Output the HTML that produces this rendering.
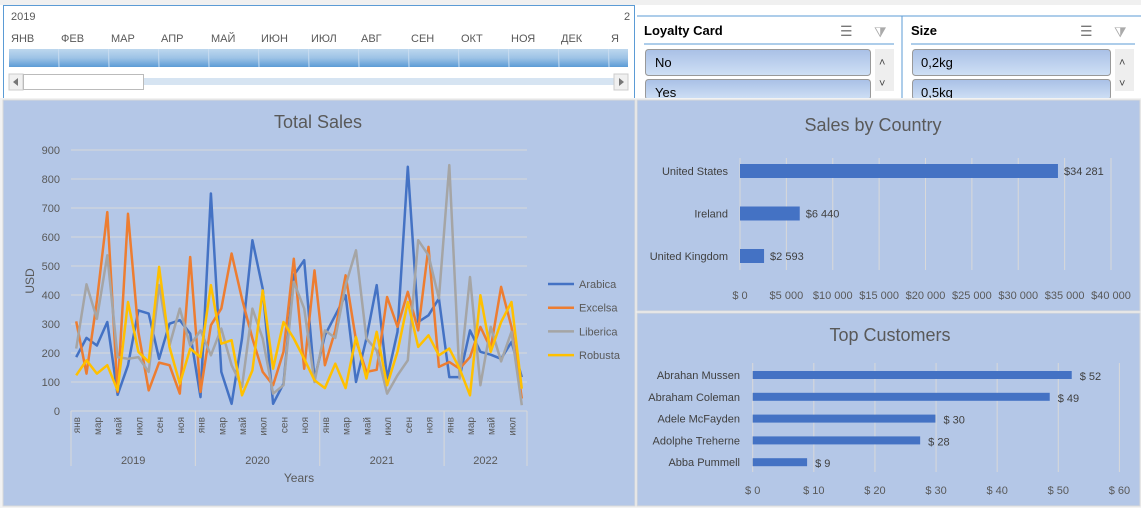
<!DOCTYPE html>
<html><head><meta charset="utf-8"><style>
body{margin:0;width:1141px;height:508px;overflow:hidden;background:#fff;font-family:"Liberation Sans","Noto Sans CJK SC",sans-serif;position:relative}
.abs{position:absolute}
</style></head><body>
<svg width="1141" height="508" style="position:absolute;left:0;top:0" font-family="Liberation Sans, sans-serif">
<!-- excel background -->
<rect x="0" y="0" width="1141" height="508" fill="#ffffff"/>
<rect x="0" y="0" width="1141" height="5" fill="#f0f0f0"/>
<!-- timeline slicer -->
<g>
<rect x="3.5" y="5.5" width="631" height="93" fill="#fff" stroke="#5b9bd5"/>
<text x="11" y="20" font-size="11" fill="#595959">2019</text>
<text x="624" y="20" font-size="11" fill="#595959">2</text>
<g id="tlmonths" font-size="11" fill="#595959"></g>
<defs><linearGradient id="tg" x1="0" y1="0" x2="0" y2="1"><stop offset="0" stop-color="#bdd7ee"/><stop offset="0.5" stop-color="#9dc3e6"/><stop offset="1" stop-color="#5b9bd5"/></linearGradient>
<linearGradient id="sg" x1="0" y1="0" x2="0" y2="1"><stop offset="0" stop-color="#a9c0e6"/><stop offset="1" stop-color="#cfe0f5"/></linearGradient></defs>
<rect x="9" y="49" width="619" height="18" fill="url(#tg)"/>
<g id="tlsep" stroke="#c8dcf0" stroke-width="1"></g>
<rect x="9" y="78" width="619" height="7" fill="#d6e4f2"/>
<rect x="9" y="74" width="14" height="16" fill="#f0f0f0" stroke="#ccc"/>
<path d="M13 82 L18 78 L18 86Z" fill="#777"/>
<rect x="23.5" y="74.5" width="120" height="15" fill="#fff" stroke="#bbb"/>
<rect x="614" y="74" width="14" height="16" fill="#f0f0f0" stroke="#ccc"/>
<path d="M624 82 L619 78 L619 86Z" fill="#777"/>
</g>
<!-- loyalty slicer -->
<g>
<rect x="637" y="16" width="265" height="83" fill="#fff"/>
<line x1="902" y1="16" x2="902" y2="98" stroke="#5b9bd5"/>
<line x1="637" y1="16" x2="1141" y2="16" stroke="#5b9bd5"/>
<text x="644" y="35" font-size="13" font-weight="bold" fill="#000">Loyalty Card</text>
<text x="840" y="36" font-size="14" fill="#777">☰</text>
<text x="874" y="37" font-size="14" fill="#aaa">⧩</text>
<line x1="644" y1="44" x2="894" y2="44" stroke="#5b9bd5"/>
<rect x="645.5" y="49.5" width="225" height="26" rx="3" fill="url(#sg)" stroke="#999"/>
<text x="655" y="67" font-size="13" fill="#000">No</text>
<rect x="645.5" y="79.5" width="225" height="20" rx="3" fill="url(#sg)" stroke="#999"/>
<text x="655" y="97" font-size="13" fill="#000">Yes</text>
<rect x="875" y="49" width="19" height="42" fill="#eee"/>
<text x="879" y="66" font-size="11" fill="#444">˄</text><text x="879" y="87" font-size="11" fill="#444">˅</text>
</g>
<g>
<text x="911" y="35" font-size="13" font-weight="bold" fill="#000">Size</text>
<text x="1080" y="36" font-size="14" fill="#777">☰</text>
<text x="1114" y="37" font-size="14" fill="#aaa">⧩</text>
<line x1="911" y1="44" x2="1135" y2="44" stroke="#5b9bd5"/>
<rect x="912.5" y="49.5" width="198" height="26" rx="3" fill="url(#sg)" stroke="#999"/>
<text x="921" y="67" font-size="13" fill="#000">0,2kg</text>
<rect x="912.5" y="79.5" width="198" height="20" rx="3" fill="url(#sg)" stroke="#999"/>
<text x="921" y="97" font-size="13" fill="#000">0,5kg</text>
<rect x="1115" y="49" width="19" height="42" fill="#eee"/>
<text x="1119" y="66" font-size="11" fill="#444">˄</text><text x="1119" y="87" font-size="11" fill="#444">˅</text>
</g>
<rect x="0" y="98" width="1141" height="410" fill="#f2f2f2"/>
<!-- panels -->
<rect x="3" y="100" width="632" height="406" fill="#b4c7e7" stroke="#d9d9d9"/>
<rect x="637" y="100" width="503" height="211" fill="#b4c7e7" stroke="#d9d9d9"/>
<rect x="637" y="313" width="503" height="193" fill="#b4c7e7" stroke="#d9d9d9"/>
<text x="318" y="128" font-size="18" fill="#595959" text-anchor="middle">Total Sales</text>
<text x="873" y="131" font-size="18" fill="#595959" text-anchor="middle">Sales by Country</text>
<text x="890" y="341" font-size="18" fill="#595959" text-anchor="middle">Top Customers</text>
<g id="line"></g>
<g id="country"></g>
<g id="cust"></g>
</svg>
<script>
const NS="http://www.w3.org/2000/svg";
function mk(p,t,a,txt){const e=document.createElementNS(NS,t);for(const k in a)e.setAttribute(k,a[k]);if(txt!=null)e.textContent=txt;p.appendChild(e);return e;}
const tlMonths=["ЯНВ","ФЕВ","МАР","АПР","МАЙ","ИЮН","ИЮЛ","АВГ","СЕН","ОКТ","НОЯ","ДЕК","Я"];
const years=["2019","2020","2021","2022"];
const monthsPerYear=[12,12,12,8];
const monthLabels=["янв","фев","мар","апр","май","июн","июл","авг","сен","окт","ноя","дек"];
const seriesNames=["Arabica","Excelsa","Liberica","Robusta"];
const seriesColors=["#4472c4","#ed7d31","#a5a5a5","#ffc000"];
const arabica=[186,252,226,307,56,158,347,336,180,301,313,267,48,750,135,25,250,589,422,25,94,468,520,110,261,330,399,100,250,434,112,273,842,307,330,388,117,117,278,204,194,180,238,117];
const excelsa=[309,129,380,686,66,680,272,71,167,158,60,531,66,296,353,543,387,250,135,89,204,525,146,485,158,278,468,244,135,142,393,290,411,278,566,152,169,146,186,290,215,428,290,43];
const liberica=[215,437,318,537,186,180,186,135,434,226,353,226,278,192,284,158,83,353,250,60,89,445,353,100,278,252,434,554,250,209,60,123,175,589,537,388,848,112,462,89,290,171,273,20];
const robusta=[123,175,129,158,71,376,204,169,497,221,94,215,186,434,232,244,54,140,416,146,307,250,180,106,79,163,79,255,112,273,89,204,376,221,261,192,215,146,54,399,204,307,376,77];
const yTicks=[0,100,200,300,400,500,600,700,800,900];
const countries=["United States","Ireland","United Kingdom"];
const countrySales=[34281,6440,2593];
const countryLabels=["$34 281","$6 440","$2 593"];
const countryTicks=[0,5000,10000,15000,20000,25000,30000,35000,40000];
const customers=["Abrahan Mussen","Abraham Coleman","Adele McFayden","Adolphe Treherne","Abba Pummell"];
const custSales=[52.2,48.6,29.9,27.4,8.9];
const custLabels=["$ 52","$ 49","$ 30","$ 28","$ 9"];
const custTicks=[0,10,20,30,40,50,60];

// timeline
const tm=document.getElementById('tlmonths'),ts=document.getElementById('tlsep');
tlMonths.forEach((m,i)=>{const t=mk(tm,'text',{x:11+50*i,y:42},m);


if(i>0&&i<13)mk(ts,'line',{x1:9+50*i-0.5*1,y1:49,x2:9+50*i,y2:67});});

// line chart
const L=document.getElementById('line');
const px0=71,pxW=456,py0=411,py1=150,yMax=900;
const nTot=monthsPerYear.reduce((a,b)=>a+b,0);
const step=pxW/nTot;
const X=i=>px0+step*(i+0.5);
const Y=v=>py0-(v/yMax)*(py0-py1);
yTicks.forEach(v=>{
 if(v>0){const g=mk(L,'line',{x1:px0,x2:px0+pxW,y1:Y(v),y2:Y(v),stroke:'#d9d9d9','stroke-width':1});
 
 }
 const t=mk(L,'text',{x:60,y:Y(v)+4,'font-size':11,fill:'#595959','text-anchor':'end'},v);
 
 
});
mk(L,'line',{x1:px0,x2:px0+pxW,y1:py0,y2:py0,stroke:'#d9d9d9'});
let idx=0;
years.forEach((yr,yi)=>{
 const n=monthsPerYear[yi];const xs=px0+step*idx,xe=px0+step*(idx+n);
 mk(L,'line',{x1:xs,x2:xs,y1:py0,y2:466,stroke:'#d9d9d9'});
 if(yi==years.length-1)mk(L,'line',{x1:xe,x2:xe,y1:py0,y2:466,stroke:'#d9d9d9'});
 for(let m=0;m<n;m+=2){const xx=X(idx+m);
  const t=mk(L,'text',{x:xx+4,y:417,'font-size':10,fill:'#595959','text-anchor':'end',transform:`rotate(-90 ${xx+4} 417)`},monthLabels[m]);
  
  }
 const t=mk(L,'text',{x:(xs+xe)/2,y:464,'font-size':11,fill:'#595959','text-anchor':'middle'},yr);
 
 
 idx+=n;
});
const xt=mk(L,'text',{x:299,y:482,'font-size':12,fill:'#595959','text-anchor':'middle'},'Years');


const yt=mk(L,'text',{x:34,y:281,'font-size':12,fill:'#595959','text-anchor':'middle',transform:'rotate(-90 34 281)'},'USD');


[arabica,excelsa,liberica,robusta].forEach((s,si)=>{
 const p=mk(L,'polyline',{points:s.map((v,i)=>X(i).toFixed(1)+','+Y(v).toFixed(1)).join(' '),fill:'none',stroke:seriesColors[si],'stroke-width':2.5,'stroke-linejoin':'round'});
 
 
 const ly=284+si*23.7;
 const g=mk(L,'g',{});
 
 
 mk(g,'line',{x1:548,x2:574,y1:ly,y2:ly,stroke:seriesColors[si],'stroke-width':2.5});
 mk(g,'text',{x:579,y:ly+4,'font-size':11,fill:'#595959'},seriesNames[si]);
});

// country chart
const C=document.getElementById('country');
const cx0=740,cW=371,cMax=40000;
const CX=v=>cx0+v/cMax*cW;
countryTicks.forEach(v=>{mk(C,'line',{x1:CX(v),x2:CX(v),y1:158,y2:270,stroke:'#d9d9d9'});
 const t=mk(C,'text',{x:CX(v),y:299,'font-size':11,fill:'#595959','text-anchor':'middle'},'$'+(v==0?' 0':(v/1000)+' 000'));
 
 });
countries.forEach((c,i)=>{const yc=171+i*42.5;
 const t=mk(C,'text',{x:728,y:yc+4,'font-size':11,fill:'#404040','text-anchor':'end'},c);
 
 
 const b=mk(C,'rect',{x:cx0,y:yc-7,width:CX(countrySales[i])-cx0,height:14,fill:'#4472c4'});
 
 
 const l=mk(C,'text',{x:CX(countrySales[i])+6,y:yc+4,'font-size':11,fill:'#404040'},countryLabels[i]);
 
 });

// customers chart
const K=document.getElementById('cust');
const kx0=752.7,kW=366.7,kMax=60;
const KX=v=>kx0+v/kMax*kW;
custTicks.forEach(v=>{mk(K,'line',{x1:KX(v),x2:KX(v),y1:363,y2:472,stroke:'#d9d9d9'});
 const t=mk(K,'text',{x:KX(v),y:494,'font-size':11,fill:'#595959','text-anchor':'middle'},'$ '+v);
 
 });
customers.forEach((c,i)=>{const yc=375+i*21.8;
 const t=mk(K,'text',{x:740,y:yc+4,'font-size':11,fill:'#404040','text-anchor':'end'},c);
 
 
 const b=mk(K,'rect',{x:kx0,y:yc-4,width:KX(custSales[i])-kx0,height:8,fill:'#4472c4'});
 
 
 const l=mk(K,'text',{x:KX(custSales[i])+8,y:yc+5,'font-size':11,fill:'#404040'},custLabels[i]);
 
 });
</script>
</body></html>
